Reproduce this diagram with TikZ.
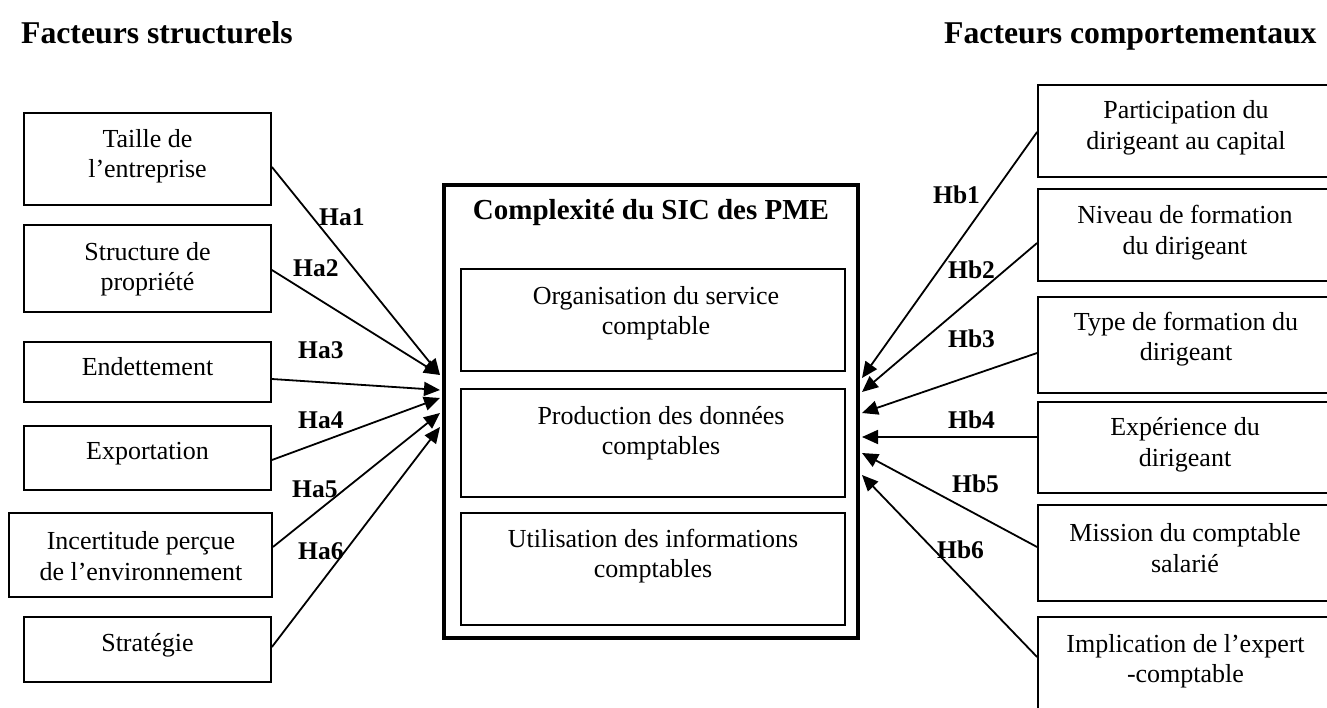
\documentclass[tikz,border=0pt]{standalone}
\usepackage{fontspec}
\setmainfont{Liberation Serif}
\usetikzlibrary{arrows.meta}
\begin{document}
\begin{tikzpicture}[x=1pt,y=-1pt,
  box/.style={draw, line width=1.8pt, rectangle, inner sep=0pt},
  txt/.style={font=\fontsize{26}{30.5}\selectfont, align=center, inner sep=0pt},
  lbl/.style={font=\fontsize{25.5}{30}\selectfont\bfseries, inner sep=0pt, anchor=base west},
  head/.style={font=\fontsize{31.7}{36}\selectfont\bfseries, inner sep=0pt, anchor=base west},
  link/.style={line width=1.8pt, -{Triangle[length=16pt,width=14pt]}}]
\useasboundingbox (0,0) rectangle (1327,707);

% column headings
\node[head] (hl) at (21,43) {Facteurs structurels};
\node[head] (hr) at (944,43) {Facteurs comportementaux};

% central block
\node[box, line width=4pt, minimum width=414pt, minimum height=453pt] (core) at (651,411.5) {};
\node[font=\fontsize{29}{34}\selectfont\bfseries, inner sep=0pt] (title) at (651,213) {Complexité du SIC des PME};
\node[box, minimum width=384pt, minimum height=102pt] (c1) at (653,320) {};
\node[box, minimum width=384pt, minimum height=108pt] (c2) at (653,443) {};
\node[box, minimum width=384pt, minimum height=112pt] (c3) at (653,569) {};
\node[txt] (c1t) at (656,313) {Organisation du service\\comptable};
\node[txt] (c2t) at (661,433) {Production des données\\comptables};
\node[txt] (c3t) at (653,556) {Utilisation des informations\\comptables};

% structural factors
\node[box, minimum width=247pt, minimum height=92pt] (a1) at (147.5,159) {};
\node[box, minimum width=247pt, minimum height=87pt] (a2) at (147.5,268.5) {};
\node[box, minimum width=247pt, minimum height=60pt] (a3) at (147.5,372) {};
\node[box, minimum width=247pt, minimum height=64pt] (a4) at (147.5,458) {};
\node[box, minimum width=263pt, minimum height=84pt] (a5) at (140.5,555) {};
\node[box, minimum width=247pt, minimum height=65pt] (a6) at (147.5,649.5) {};
\node[txt] (a1t) at (147.5,156) {Taille de\\l’entreprise};
\node[txt] (a2t) at (147.5,269) {Structure de\\propriété};
\node[txt] (a3t) at (147.5,367) {Endettement};
\node[txt] (a4t) at (147.5,454) {Exportation};
\node[txt] (a5t) at (141,556) {Incertitude perçue\\de l’environnement};
\node[txt] (a6t) at (147.5,645) {Stratégie};

% behavioural factors
\node[box, minimum width=302pt, minimum height=92pt] (b1) at (1189,131) {};
\node[box, minimum width=302pt, minimum height=92pt] (b2) at (1189,235) {};
\node[box, minimum width=302pt, minimum height=96pt] (b3) at (1189,345) {};
\node[box, minimum width=302pt, minimum height=91pt] (b4) at (1189,447.5) {};
\node[box, minimum width=302pt, minimum height=96pt] (b5) at (1189,553) {};
\node[box, minimum width=302pt, minimum height=143pt] (b6) at (1189,688.5) {};
\node[txt] (b1t) at (1186,128) {Participation du\\dirigeant au capital};
\node[txt] (b2t) at (1185,232.5) {Niveau de formation\\du dirigeant};
\node[txt] (b3t) at (1186,339) {Type de formation du\\dirigeant};
\node[txt] (b4t) at (1185,445) {Expérience du\\dirigeant};
\node[txt] (b5t) at (1185,548) {Mission du comptable\\salarié};
\node[txt] (b6t) at (1185.5,661) {Implication de l’expert\\-comptable};

% hypotheses, left side
\draw[link] ([yshift=-8pt]a1.east) -- ([xshift=-2pt,yshift=36.5pt]core.west);
\draw[link] ([yshift=-1.5pt]a2.east) -- ([xshift=-2pt,yshift=36.5pt]core.west);
\draw[link] ([yshift=-7pt]a3.east) -- ([xshift=-2pt,yshift=21.5pt]core.west);
\draw[link] ([yshift=-2pt]a4.east) -- ([xshift=-2pt,yshift=13.5pt]core.west);
\draw[link] ([yshift=8pt]a5.east) -- ([xshift=-2pt,yshift=-1.5pt]core.west);
\draw[link] ([yshift=2.5pt]a6.east) -- ([xshift=-2pt,yshift=-15.5pt]core.west);
\node[lbl] (ha1) at (319,225) {Ha1};
\node[lbl] (ha2) at (293,276) {Ha2};
\node[lbl] (ha3) at (298,358) {Ha3};
\node[lbl] (ha4) at (298,428) {Ha4};
\node[lbl] (ha5) at (292,497) {Ha5};
\node[lbl] (ha6) at (298,559) {Ha6};

% hypotheses, right side
\draw[link] ([yshift=-1pt]b1.west) -- ([xshift=2pt,yshift=33.5pt]core.east);
\draw[link] ([yshift=-8pt]b2.west) -- ([xshift=2pt,yshift=19.5pt]core.east);
\draw[link] ([yshift=-8pt]b3.west) -- ([xshift=2pt,yshift=-1.5pt]core.east);
\draw[link] ([yshift=10.5pt]b4.west) -- ([xshift=2pt,yshift=-25.5pt]core.east);
\draw[link] ([yshift=6pt]b5.west) -- ([xshift=2pt,yshift=-41.5pt]core.east);
\draw[link] ([yshift=31.5pt]b6.west) -- ([xshift=2pt,yshift=-63.5pt]core.east);
\node[lbl] (hb1) at (933,203) {Hb1};
\node[lbl] (hb2) at (948,278) {Hb2};
\node[lbl] (hb3) at (948,347) {Hb3};
\node[lbl] (hb4) at (948,428) {Hb4};
\node[lbl] (hb5) at (952,492) {Hb5};
\node[lbl] (hb6) at (937,558) {Hb6};
\end{tikzpicture}
\end{document}
